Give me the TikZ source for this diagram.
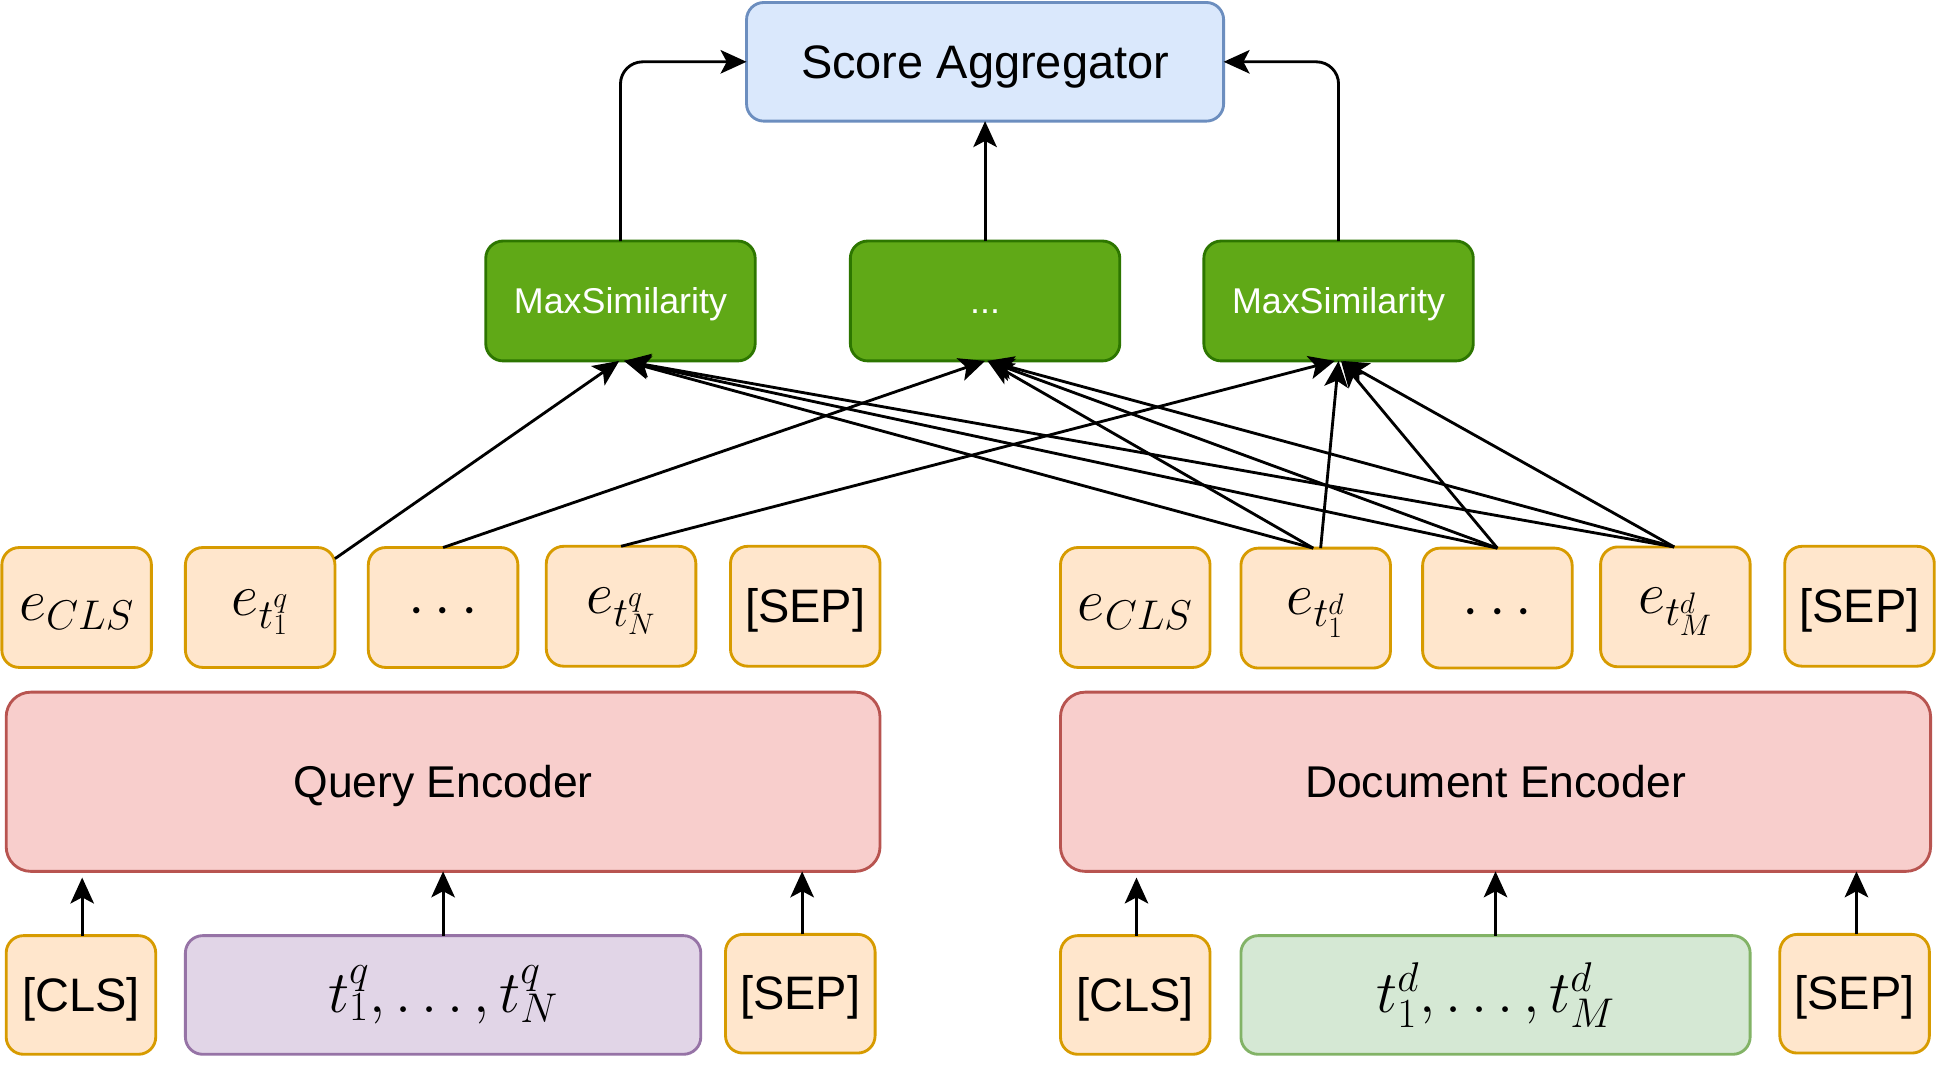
\RequirePackage{fix-cm}
\documentclass[tikz,border=0pt]{standalone}
\usepackage[no-math]{fontspec}
\setmainfont{Liberation Sans}
\usetikzlibrary{arrows.meta,calc}
\definecolor{blueF}{HTML}{DAE8FC}\definecolor{blueD}{HTML}{6C8EBF}
\definecolor{greenF}{HTML}{60A917}\definecolor{greenD}{HTML}{2D7600}
\definecolor{orF}{HTML}{FFE6CC}\definecolor{orD}{HTML}{D79B00}
\definecolor{redF}{HTML}{F8CECC}\definecolor{redD}{HTML}{B85450}
\definecolor{purF}{HTML}{E1D5E7}\definecolor{purD}{HTML}{9673A6}
\definecolor{lgF}{HTML}{D5E8D4}\definecolor{lgD}{HTML}{82B366}
\newcommand\lowmath[1]{\raisebox{-4pt}[\height][\depth]{$#1$}}
\tikzset{
  base/.style={draw, line width=2.3pt, rounded corners=14pt, inner sep=0pt, outer sep=0pt, align=center},
  tok/.style={base, fill=orF, draw=orD, minimum width=121pt, minimum height=97pt},
  ms/.style={base, fill=greenF, draw=greenD, minimum width=218pt, minimum height=97pt, text=white,
     font=\fontsize{29}{32}\selectfont, text height=26.2pt, text depth=6.1pt},
  enc/.style={base, fill=redF, draw=redD, rounded corners=20pt, minimum height=145pt,
     font=\fontsize{36}{40}\selectfont, text height=32.6pt, text depth=7.6pt},
  big/.style={font=\fontsize{38}{42}\selectfont, text height=34.4pt, text depth=8.1pt},
  mth/.style={font=\fontsize{48}{52}\selectfont},
  arr/.style={line width=2.3pt, -{Stealth[length=21pt,width=19pt,inset=5pt]}},
}
\begin{document}
\begin{tikzpicture}[x=1pt,y=-1pt]
\fill[white] (0,0) rectangle (1568,879);
\useasboundingbox (0,0) rectangle (1568,879);
% top
\node[base, fill=blueF, draw=blueD, minimum width=386pt, minimum height=96pt, big] (score) at (797,50) {Score Aggregator};
\node[ms] (ms1) at (502,243.5) {MaxSimilarity};
\node[ms] (ms2) at (797,243.5) {...};
\node[ms] (ms3) at (1083,243.5) {MaxSimilarity};
% embedding row
\node[tok, mth] (eq1) at (62,491.5) {\lowmath{e_{CLS}}};
\node[tok, mth] (eq2) at (210.5,491.5) {\lowmath{e_{t^q_1}}};
\node[tok, mth] (eq3) at (358.5,491.5) {\lowmath{\cdots}};
\node[tok, mth] (eq4) at (502.5,490.5) {\lowmath{e_{t^q_N}}};
\node[tok, big] (eq5) at (651.5,490.5) {[SEP]};
\node[tok, mth] (ed1) at (918.5,491.5) {\lowmath{e_{CLS}}};
\node[tok, mth] (ed2) at (1064.5,492) {\lowmath{e_{t^d_1}}};
\node[tok, mth] (ed3) at (1211.5,492) {\lowmath{\cdots}};
\node[tok, mth] (ed4) at (1355.5,491) {\lowmath{e_{t^d_M}}};
\node[tok, big] (ed5) at (1504.5,490.5) {[SEP]};
% encoders
\node[enc, minimum width=707pt] (qenc) at (358.5,632.5) {Query Encoder};
\node[enc, minimum width=704pt] (denc) at (1210,632.5) {Document Encoder};
% inputs
\node[tok, big, minimum height=96pt] (bq1) at (65.5,805) {[CLS]};
\node[base, fill=purF, draw=purD, minimum width=417pt, minimum height=96pt, mth] (bq2) at (358.5,805) {$t^q_1, \ldots, t^q_N$};
\node[tok, big, minimum height=96pt] (bq3) at (647.5,804) {[SEP]};
\node[tok, big, minimum height=96pt] (bd1) at (918.5,805) {[CLS]};
\node[base, fill=lgF, draw=lgD, minimum width=412pt, minimum height=96pt, mth] (bd2) at (1210,805) {$t^d_1, \ldots, t^d_M$};
\node[tok, big, minimum height=96pt] (bd3) at (1500.5,804) {[SEP]};
% input arrows
\draw[arr, shorten >=5pt] ([xshift=1pt]bq1.north) -- ([xshift=1pt]bq1.north |- qenc.south);
\draw[arr] (bq2.north) -- (bq2.north |- qenc.south);
\draw[arr] ([xshift=1.5pt]bq3.north) -- ([xshift=1.5pt]bq3.north |- qenc.south);
\draw[arr, shorten >=5pt] ([xshift=1pt]bd1.north) -- ([xshift=1pt]bd1.north |- denc.south);
\draw[arr] (bd2.north) -- (bd2.north |- denc.south);
\draw[arr] ([xshift=1.5pt]bd3.north) -- ([xshift=1.5pt]bd3.north |- denc.south);
% similarity arrows
\draw[arr] ([yshift=-9pt]eq2.north east) -- ([xshift=-1pt]ms1.south);
\draw[arr] (eq3.north) -- (ms2.south);
\draw[arr] (eq4.north) -- ([xshift=-3pt]ms3.south);
\foreach \s/\dx in {ed2/-2, ed3/0, ed4/-1}{
  \draw[arr] ([xshift=\dx pt]\s.north) -- ([xshift=3pt]ms1.south);
  \draw[arr] ([xshift=\dx pt]\s.north) -- ([xshift=2pt]ms2.south);
}
\draw[arr] ([xshift=4pt]ed2.north) -- ([xshift=0pt]ms3.south);
\draw[arr] (ed3.north) -- ([xshift=2pt]ms3.south);
\draw[arr] ([xshift=-1pt]ed4.north) -- ([xshift=3pt]ms3.south);
% to aggregator
\draw[arr, rounded corners=18pt] (ms1.north) |- (score.west);
\draw[arr] (ms2.north) -- (score.south);
\draw[arr, rounded corners=18pt] (ms3.north) |- (score.east);
\end{tikzpicture}
\end{document}
